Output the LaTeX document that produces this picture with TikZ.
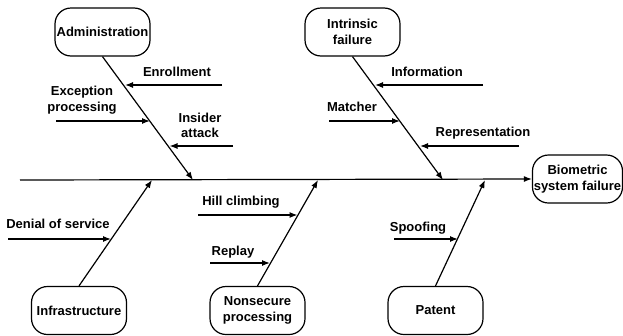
\documentclass[tikz,border=0pt]{standalone}
\usepackage{fontspec}
\setmainfont{Liberation Sans}
\usetikzlibrary{arrows.meta}
\tikzset{
  cause/.style={draw, line width=1.2pt, rounded corners=16pt, minimum width=95pt, minimum height=48pt, align=center, inner sep=1pt},
  lbl/.style={align=center, inner sep=0pt},
  bone/.style={line width=1.2pt, -{Latex[length=8pt,width=6pt]}},
}

\begin{document}
\begin{tikzpicture}[x=1pt, y=-1pt, font=\fontsize{13}{15.5}\selectfont\bfseries]
    \useasboundingbox (0,0) rectangle (623,335);
    % effect and main spine
    \node[cause, minimum width=90pt] (effect) at (577.5,179) {Biometric\\system failure};
    \coordinate (tail) at (20,180);
    \draw[bone] (tail) -- (effect.west);
    % top categories
    \node[cause] (admin) at (102.5,32) {Administration};
    \node[cause] (intr) at (352.5,32) {Intrinsic\\failure};
    \coordinate (admin-end) at (193,180);
    \coordinate (intr-end) at (443,180);
    \draw[bone] (admin.south) -- (admin-end);
    \draw[bone] (intr.south) -- (intr-end);
    % bottom categories
    \node[cause] (infra) at (79,310.5) {Infrastructure};
    \node[cause] (nonsec) at (257.5,310.5) {Nonsecure\\processing};
    \node[cause] (patent) at (435.5,310.5) {Patent};
    \coordinate (infra-end) at (152,180);
    \coordinate (nonsec-end) at (318,180);
    \coordinate (patent-end) at (485,180);
    \draw[bone] (infra.north) -- (infra-end);
    \draw[bone] (nonsec.north) -- (nonsec-end);
    \draw[bone] (patent.north) -- (patent-end);
    % sub-causes
    \coordinate (enroll-a) at (222,85);   \coordinate (enroll-b) at (125,85);
    \coordinate (except-a) at (56,121);   \coordinate (except-b) at (150,121);
    \coordinate (insider-a) at (233,146); \coordinate (insider-b) at (169.5,146);
    \coordinate (info-a) at (483,85);     \coordinate (info-b) at (375,85);
    \coordinate (match-a) at (329,121);   \coordinate (match-b) at (400,121);
    \coordinate (repr-a) at (519,146);    \coordinate (repr-b) at (420,146);
    \coordinate (dos-a) at (8,239);       \coordinate (dos-b) at (111,239);
    \coordinate (hill-a) at (198,215);    \coordinate (hill-b) at (297.5,215);
    \coordinate (replay-a) at (210,263);  \coordinate (replay-b) at (270,263);
    \coordinate (spoof-a) at (394,239);   \coordinate (spoof-b) at (458,239);
    \foreach \s in {enroll,except,insider,info,match,repr,dos,hill,replay,spoof}
      \draw[bone] (\s-a) -- (\s-b);
    \node[lbl] (enroll) at (177,72) {Enrollment};
    \node[lbl] (except) at (82,100) {Exception\\processing};
    \node[lbl] (insider) at (200,125.5) {Insider\\attack};
    \node[lbl] (info) at (427,72) {Information};
    \node[lbl] (match) at (352,107) {Matcher};
    \node[lbl] (repr) at (483,133) {Representation};
    \node[lbl] (dos) at (58,224) {Denial of service};
    \node[lbl] (hill) at (241,202) {Hill climbing};
    \node[lbl] (replay) at (233,252) {Replay};
    \node[lbl] (spoof) at (418,228) {Spoofing};
\end{tikzpicture}
\end{document}
